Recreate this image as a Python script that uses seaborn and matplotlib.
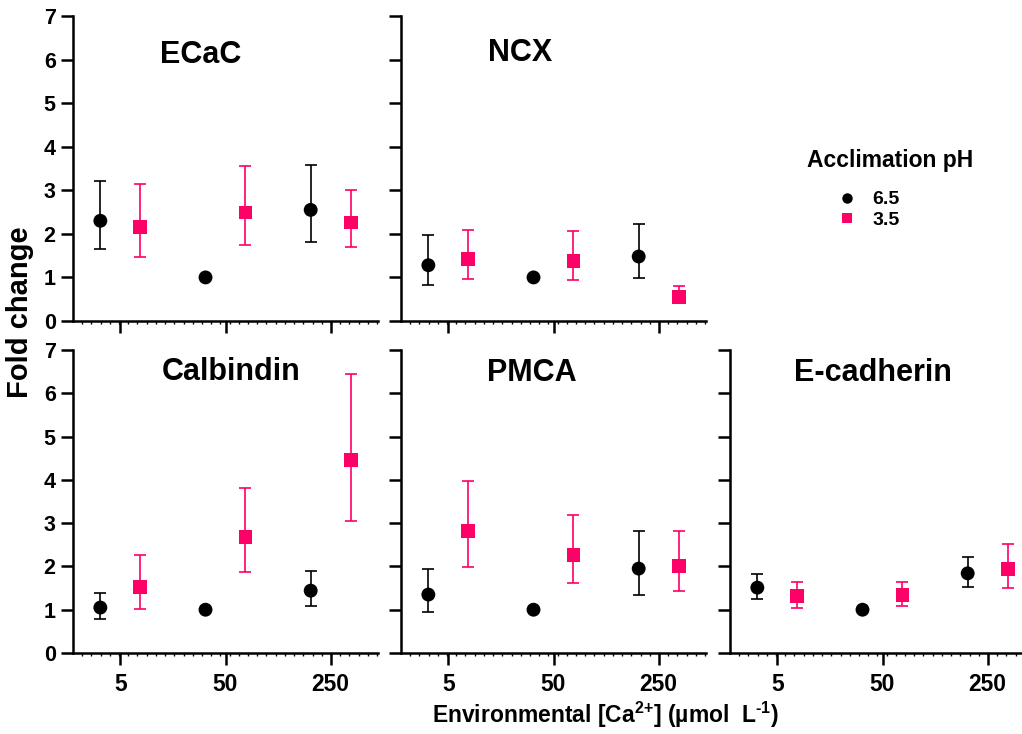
import numpy as np
import pandas as pd
import matplotlib
matplotlib.use("Agg")
import matplotlib.pyplot as plt
from matplotlib.lines import Line2D
import seaborn as sns

# ---------------- data ----------------
genes = ["ECaC", "NCX", "Calbindin", "PMCA", "E-cadherin"]
ca_levels = ["5", "50", "250"]
ph_levels = ["6.5", "3.5"]

mean_ph65 = {"ECaC": [2.30, 1.00, 2.55], "NCX": [1.28, 1.00, 1.48],
             "Calbindin": [1.05, 1.00, 1.44], "PMCA": [1.35, 1.00, 1.95],
             "E-cadherin": [1.51, 1.00, 1.84]}
upper_ph65 = {"ECaC": [3.21, 1.00, 3.59], "NCX": [1.97, 1.00, 2.22],
              "Calbindin": [1.38, 1.00, 1.90], "PMCA": [1.94, 1.00, 2.82],
              "E-cadherin": [1.82, 1.00, 2.22]}
lower_ph65 = {"ECaC": [1.65, 1.00, 1.81], "NCX": [0.83, 1.00, 0.99],
              "Calbindin": [0.78, 1.00, 1.09], "PMCA": [0.94, 1.00, 1.34],
              "E-cadherin": [1.25, 1.00, 1.53]}

mean_ph35 = {"ECaC": [2.15, 2.49, 2.26], "NCX": [1.42, 1.38, 0.56],
             "Calbindin": [1.52, 2.68, 4.45], "PMCA": [2.82, 2.27, 2.01],
             "E-cadherin": [1.32, 1.35, 1.95]}
upper_ph35 = {"ECaC": [3.14, 3.55, 3.00], "NCX": [2.08, 2.06, 0.81],
              "Calbindin": [2.27, 3.82, 6.45], "PMCA": [3.98, 3.18, 2.81],
              "E-cadherin": [1.63, 1.64, 2.52]}
lower_ph35 = {"ECaC": [1.48, 1.74, 1.69], "NCX": [0.96, 0.93, 0.45],
              "Calbindin": [1.01, 1.86, 3.06], "PMCA": [1.99, 1.62, 1.44],
              "E-cadherin": [1.05, 1.09, 1.50]}

rows = []
for g in genes:
    for i, ca in enumerate(ca_levels):
        rows.append(dict(gene=g, ca=ca, ci=i, ph="6.5", mean=mean_ph65[g][i],
                         lo=lower_ph65[g][i], hi=upper_ph65[g][i]))
        rows.append(dict(gene=g, ca=ca, ci=i, ph="3.5", mean=mean_ph35[g][i],
                         lo=lower_ph35[g][i], hi=upper_ph35[g][i]))
df = pd.DataFrame(rows)

# ---------------- style ----------------
sns.set_theme(style="ticks")
plt.rcParams["font.family"] = ["Liberation Sans", "DejaVu Sans"]
plt.rcParams["font.weight"] = "bold"
plt.rcParams["text.color"] = "black"
plt.rcParams["axes.labelcolor"] = "black"
plt.rcParams["xtick.color"] = "black"
plt.rcParams["ytick.color"] = "black"
plt.rcParams["mathtext.fontset"] = "custom"
plt.rcParams["mathtext.rm"] = "Liberation Sans:bold"
plt.rcParams["mathtext.it"] = "Liberation Sans:bold"
plt.rcParams["mathtext.bf"] = "Liberation Sans:bold"
plt.rcParams["mathtext.default"] = "rm"

PINK = "#FF0066"
palette = {"6.5": "black", "3.5": PINK}
markers = {"6.5": "o", "3.5": "s"}
offset = {"6.5": -0.19, "3.5": 0.19}
df["xpos"] = df["ci"] + df["ph"].map(offset)

W, H = 1022, 734
fig = plt.figure(figsize=(W / 100, H / 100), dpi=100)

col_left = [73, 401, 730]
row_box = [(16, 321), (350, 653)]
panel_pos = {"ECaC": (0, 0), "NCX": (0, 1), "Calbindin": (1, 0),
             "PMCA": (1, 1), "E-cadherin": (1, 2)}
title_xy = {"ECaC": (0.42, 0.872), "NCX": (0.39, 0.88),
            "Calbindin": (0.52, 0.928), "PMCA": (0.43, 0.925),
            "E-cadherin": (0.47, 0.924)}
AX_W = 305

for g in genes:
    r, c = panel_pos[g]
    top, bot = row_box[r]
    ax = fig.add_axes([col_left[c] / W, 1 - bot / H, AX_W / W, (bot - top) / H])
    sub = df[df["gene"] == g]
    for ph in ph_levels:
        s = sub[sub["ph"] == ph]
        ax.errorbar(s["xpos"], s["mean"],
                    yerr=[s["mean"] - s["lo"], s["hi"] - s["mean"]],
                    fmt="none", ecolor=palette[ph], elinewidth=1.2,
                    capsize=4.5, capthick=1.2, zorder=2)
    sns.scatterplot(data=sub, x="xpos", y="mean", hue="ph", style="ph",
                    palette=palette, markers=markers, s=100, linewidth=0,
                    legend=False, ax=ax, zorder=3)
    ax.set_xlim(-0.45, 2.45)
    ax.set_ylim(0, 7)
    ax.set_yticks(range(0, 8))
    ax.set_xticks(range(len(ca_levels)))
    ax.set_xticks(np.arange(-0.45 + 0.0876, 2.45, 0.0876), minor=True)
    ax.set_xlabel("")
    ax.set_ylabel("")
    sns.despine(ax=ax)
    for sp in ["left", "bottom"]:
        ax.spines[sp].set_linewidth(1.8)
        ax.spines[sp].set_color("black")
    ax.tick_params(axis="both", which="major", length=8.5, width=1.8,
                   color="black", direction="out")
    ax.tick_params(axis="x", which="minor", length=2.2, width=1.0,
                   color="black", direction="out")
    ax.tick_params(axis="y", labelsize=15.5, pad=4, labelcolor="black")
    ax.tick_params(axis="x", labelsize=16.5, pad=6, labelcolor="black")
    if c == 0:
        ax.set_yticklabels([str(v) for v in range(0, 8)], fontweight="bold")
    else:
        ax.set_yticklabels([])
    if r == 1:
        ax.set_xticklabels(ca_levels, fontweight="bold")
    else:
        ax.set_xticklabels([])
    tx, ty = title_xy[g]
    ax.text(tx, ty, g, transform=ax.transAxes, ha="center", va="center",
            fontsize=22, fontweight="bold", color="black")
    ax.set_facecolor("white")

fig.text(20 / W, 1 - 312 / H, "Fold change", rotation=90, ha="center",
         va="center", fontsize=21, fontweight="bold", color="black")
fig.text(605 / W, 1 - 715 / H,
         r"Environmental [Ca$^{\text{2+}}$] (µmol  L$^{\text{-1}}$)",
         ha="center", va="center", fontsize=16.5, fontweight="bold",
         color="black")

fig.text(807 / W, 1 - 161 / H, "Acclimation pH", ha="left", va="center",
         fontsize=16.5, fontweight="bold", color="black")
handles = [Line2D([], [], marker="o", ls="none", color="black",
                  markeredgewidth=0, markersize=7.5),
           Line2D([], [], marker="s", ls="none", color=PINK,
                  markeredgewidth=0, markersize=7.5)]
fig.legend(handles, ph_levels, loc="upper left",
           bbox_to_anchor=(828 / W, 1 - 181 / H), frameon=False,
           borderpad=0, handlelength=1.0, handletextpad=0.8,
           labelspacing=0.15, prop={"size": 14, "weight": "bold"},
           labelcolor="black")

fig.savefig("out.png", dpi=100, facecolor="white")
